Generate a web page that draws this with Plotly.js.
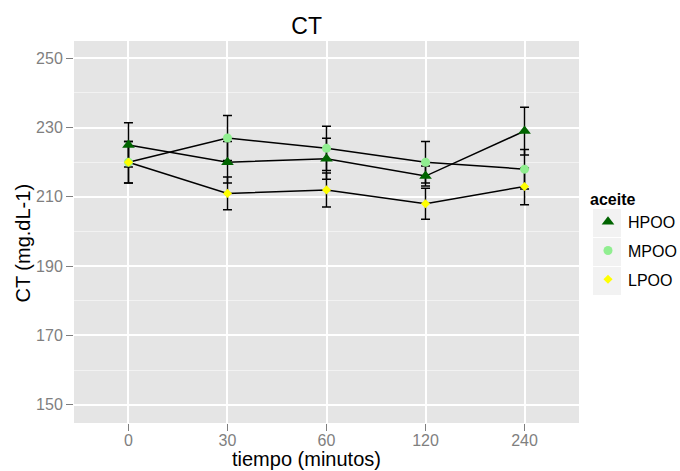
<!DOCTYPE html>
<html>
<head>
<meta charset="utf-8">
<script src="https://cdn.plot.ly/plotly-3.0.1.min.js"></script>
<style>html,body{margin:0;padding:0;background:#fff}#chart{width:680px;height:471px}</style>
</head>
<body>
<div id="chart"></div>
<script>
const categories = ['0', '30', '60', '120', '240'];
const seriesNames = ['HPOO', 'MPOO', 'LPOO'];
const hpoo = [225, 220, 221, 216, 229];
const mpoo = [220, 227, 224, 220, 218];
const lpoo = [220, 211, 212, 208, 213];
const hpooErr = [6.4, 6.0, 5.9, 2.9, 6.9];
const mpooErr = [6.0, 6.5, 6.4, 6.0, 5.7];
const lpooErr = [6.0, 4.7, 4.9, 4.5, 5.3];
const yTicks = [150, 170, 190, 210, 230, 250];

const values = [hpoo, mpoo, lpoo];
const errs = [hpooErr, mpooErr, lpooErr];
const markerStyles = [
  {symbol: 'triangle-up', size: 11, color: '#006400'},
  {symbol: 'circle', size: 9, color: '#90EE90'},
  {symbol: 'diamond', size: 7, color: '#FFFF00'}
];
const FONT = 'Liberation Sans, Arial, sans-serif';

const traces = [];
// error bars (drawn first, beneath)
for (let i = 0; i < 3; i++) {
  traces.push({
    type: 'scatter', mode: 'markers', x: categories, y: values[i],
    marker: {size: 1, opacity: 0}, showlegend: false, hoverinfo: 'skip',
    error_y: {type: 'data', array: errs[i], visible: true, color: '#000', thickness: 1.5, width: 4.5}
  });
}
// lines
for (let i = 0; i < 3; i++) {
  traces.push({
    type: 'scatter', mode: 'lines', x: categories, y: values[i],
    line: {color: '#000', width: 1.5}, showlegend: false, hoverinfo: 'skip'
  });
}
// points
for (let i = 0; i < 3; i++) {
  traces.push({
    type: 'scatter', mode: 'markers', x: categories, y: values[i], name: seriesNames[i],
    legendgroup: seriesNames[i],
    marker: {symbol: markerStyles[i].symbol, size: markerStyles[i].size, color: markerStyles[i].color, line: {width: 0}}
  });
}

// legend key background boxes (paper coords)
const W = 680, H = 471;
const L = 74, R = 579, T = 41, B = 423;
const pw = R - L, ph = B - T;
const px = v => (v - L) / pw;
const py = v => (B - v) / ph;
const shapes = [];
const keyTops = [209, 238, 267];
keyTops.forEach(t => {
  shapes.push({type: 'rect', xref: 'paper', yref: 'paper', layer: 'above',
    x0: px(593), x1: px(621), y0: py(t + 28), y1: py(t),
    fillcolor: '#f2f2f2', line: {width: 0}});
});

const layout = {
  width: W, height: H,
  margin: {l: L, r: W - R, t: T, b: H - B, pad: 0, autoexpand: false},
  paper_bgcolor: '#ffffff', plot_bgcolor: '#e5e5e5',
  font: {family: FONT, color: '#000'},
  title: {text: 'CT', font: {size: 23, color: '#000', family: FONT},
    xref: 'paper', x: px(306.7), xanchor: 'center', yref: 'container', y: 1 - 25.5 / H, yanchor: 'middle'},
  xaxis: {
    type: 'category', categoryorder: 'array', categoryarray: categories,
    range: [-0.55, 4.55], showgrid: true, gridcolor: '#ffffff', gridwidth: 2,
    ticks: 'outside', ticklen: 7, tickwidth: 1, tickcolor: '#7f7f7f', ticklabelstandoff: -4,
    tickfont: {size: 16, color: '#7f7f7f', family: FONT},
    showline: false, zeroline: false, fixedrange: true, automargin: false
  },
  yaxis: {
    range: [144.7, 255], tickvals: yTicks, ticktext: yTicks.map(String),
    showgrid: true, gridcolor: '#ffffff', gridwidth: 2,
    minor: {tickmode: 'array', tickvals: [160, 180, 200, 220, 240], showgrid: true, gridcolor: '#f2f2f2', gridwidth: 1, ticks: ''},
    ticks: 'outside', ticklen: 7, tickwidth: 1, tickcolor: '#7f7f7f',
    tickfont: {size: 16, color: '#7f7f7f', family: FONT},
    showline: false, zeroline: false, fixedrange: true, automargin: false
  },
  showlegend: true,
  legend: {
    xref: 'container', yref: 'container',
    x: 588 / W, xanchor: 'left', y: 1 - 184 / H, yanchor: 'top',
    bgcolor: 'rgba(0,0,0,0)', borderwidth: 0,
    traceorder: 'grouped', tracegroupgap: 5,
    title: {text: '<b>aceite</b>', font: {size: 16, family: FONT, color: '#000'}},
    font: {size: 16, family: FONT, color: '#000'},
    itemclick: false, itemdoubleclick: false
  },
  shapes: shapes,
  annotations: [
    {text: 'tiempo (minutos)', xref: 'paper', yref: 'paper', x: px(306.5), y: py(459), xanchor: 'center', yanchor: 'middle',
      borderpad: 0, showarrow: false, font: {size: 20, family: FONT, color: '#000'}},
    {text: 'CT (mg.dL-1)', xref: 'paper', yref: 'paper', x: px(22.5), y: py(243), xanchor: 'center', yanchor: 'middle',
      textangle: -90, showarrow: false, font: {size: 20, family: FONT, color: '#000'}}
  ]
};

Plotly.newPlot('chart', traces, layout, {displayModeBar: false, staticPlot: true});
</script>
</body>
</html>
